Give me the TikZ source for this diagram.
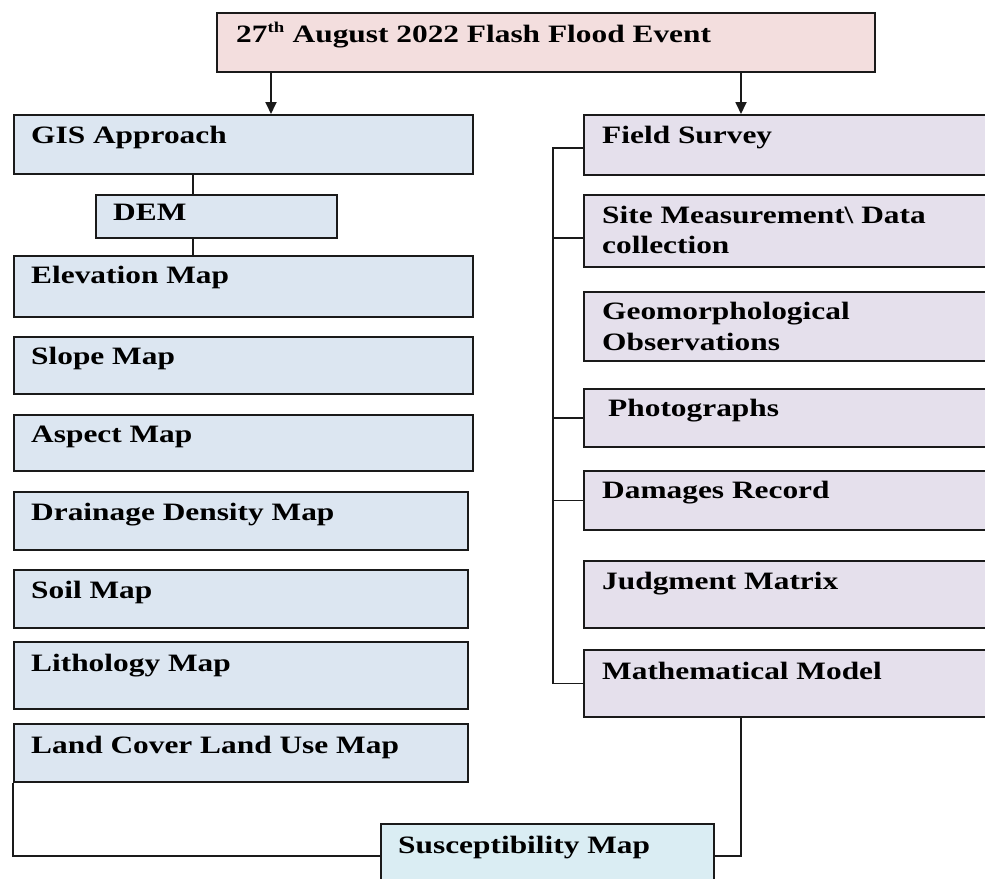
\documentclass[tikz,border=0pt]{standalone}
\usepackage{fontspec}
\setmainfont{Liberation Serif}[FakeStretch=1.255]
\usetikzlibrary{arrows.meta,calc}
\definecolor{pinkF}{HTML}{F3DEDE}
\definecolor{blueF}{HTML}{DCE6F1}
\definecolor{lavF}{HTML}{E5E0EC}
\definecolor{cyanF}{HTML}{DAEDF3}
\definecolor{lineC}{HTML}{1A1A1A}
\begin{document}
\begin{tikzpicture}[x=1pt,y=-1pt,
  box/.style={draw=lineC, line width=1.8pt, rectangle, anchor=north west, inner sep=0pt},
  lbox/.style={box, fill=blueF},
  rbox/.style={box, fill=lavF},
  txt/.style={anchor=base west, inner sep=0pt, font=\bfseries\fontsize{25}{30}\selectfont},
  conn/.style={line width=1.8pt, draw=lineC},
  arr/.style={conn, -{Triangle[width=11pt,length=12pt]}}]
\clip (0,0) rectangle (985,878);
\fill[white] (0,0) rectangle (985,878);
% top
\node[box, fill=pinkF, minimum width=658pt, minimum height=59pt] (ev) at (216,12) {};
\node[txt] (evT) at ($(ev.north west)+(20,30)$) {27\textsuperscript{\fontsize{15}{15}\selectfont th} August 2022 Flash Flood Event};
% left column
\node[lbox, minimum width=459pt, minimum height=59pt] (gis) at (13,114) {};
\node[txt] (gisT) at ($(gis.north west)+(18,29)$) {GIS Approach};
\node[lbox, minimum width=241pt, minimum height=43pt] (dem) at (95,194) {};
\node[txt] (demT) at ($(dem.north west)+(18,26)$) {DEM};
\node[lbox, minimum width=459pt, minimum height=61pt] (elev) at (13,255) {};
\node[txt] (elevT) at ($(elev.north west)+(18,28)$) {Elevation Map};
\node[lbox, minimum width=459pt, minimum height=57pt] (slope) at (13,336) {};
\node[txt] (slopeT) at ($(slope.north west)+(18,28)$) {Slope Map};
\node[lbox, minimum width=459pt, minimum height=56pt] (asp) at (13,414) {};
\node[txt] (aspT) at ($(asp.north west)+(18,28)$) {Aspect Map};
\node[lbox, minimum width=454pt, minimum height=58pt] (dd) at (13,491) {};
\node[txt] (ddT) at ($(dd.north west)+(18,29)$) {Drainage Density Map};
\node[lbox, minimum width=454pt, minimum height=58pt] (soil) at (13,569) {};
\node[txt] (soilT) at ($(soil.north west)+(18,29)$) {Soil Map};
\node[lbox, minimum width=454pt, minimum height=67pt] (lith) at (13,641) {};
\node[txt] (lithT) at ($(lith.north west)+(18,30)$) {Lithology Map};
\node[lbox, minimum width=454pt, minimum height=58pt] (lc) at (13,723) {};
\node[txt] (lcT) at ($(lc.north west)+(18,30)$) {Land Cover Land Use Map};
% right column
\node[rbox, minimum width=420pt, minimum height=60pt] (fs) at (583,114) {};
\node[txt] (fsT) at ($(fs.north west)+(19,29)$) {Field Survey};
\node[rbox, minimum width=420pt, minimum height=72pt] (sm) at (583,194) {};
\node[txt] (smT) at ($(sm.north west)+(19,29)$) {Site Measurement\textbackslash{} Data};
\node[txt] (smT2) at ($(sm.north west)+(19,59)$) {collection};
\node[rbox, minimum width=420pt, minimum height=69pt] (geo) at (583,291) {};
\node[txt] (geoT) at ($(geo.north west)+(19,28)$) {Geomorphological};
\node[txt] (geoT2) at ($(geo.north west)+(19,59)$) {Observations};
\node[rbox, minimum width=420pt, minimum height=58pt] (ph) at (583,388) {};
\node[txt] (phT) at ($(ph.north west)+(25,28)$) {Photographs};
\node[rbox, minimum width=420pt, minimum height=59pt] (dr) at (583,470) {};
\node[txt] (drT) at ($(dr.north west)+(19,28)$) {Damages Record};
\node[rbox, minimum width=420pt, minimum height=67pt] (jm) at (583,560) {};
\node[txt] (jmT) at ($(jm.north west)+(19,29)$) {Judgment Matrix};
\node[rbox, minimum width=420pt, minimum height=67pt] (mm) at (583,649) {};
\node[txt] (mmT) at ($(mm.north west)+(19,30)$) {Mathematical Model};
% bottom
\node[box, fill=cyanF, minimum width=333pt, minimum height=64pt] (sus) at (380,823) {};
\node[txt] (susT) at ($(sus.north west)+(18,30)$) {Susceptibility Map};
% connectors
\coordinate (a1) at (271,0);
\coordinate (a2) at (741,0);
\coordinate (c1) at (193,0);
\coordinate (bx) at (553,0);
\coordinate (fsP) at ([yshift=-3pt]fs.west);
\coordinate (smP) at ([yshift=-7pt]sm.west);
\draw[arr] (ev.south -| a1) -- (gis.north -| a1);
\draw[arr] (ev.south -| a2) -- (fs.north -| a2);
\draw[conn] (gis.south -| c1) -- (dem.north -| c1);
\draw[conn] (dem.south -| c1) -- (elev.north -| c1);
\draw[conn] (fsP) -| (bx |- mm.west) -- (mm.west);
\draw[conn] (bx |- smP) -- (smP);
\draw[conn] (bx |- ph.west) -- (ph.west);
\draw[conn] (bx |- dr.west) -- (dr.west);
\draw[conn] (lc.south west) |- (sus.west);
\draw[conn] (mm.south -| a2) |- (sus.east);
\end{tikzpicture}
\end{document}
